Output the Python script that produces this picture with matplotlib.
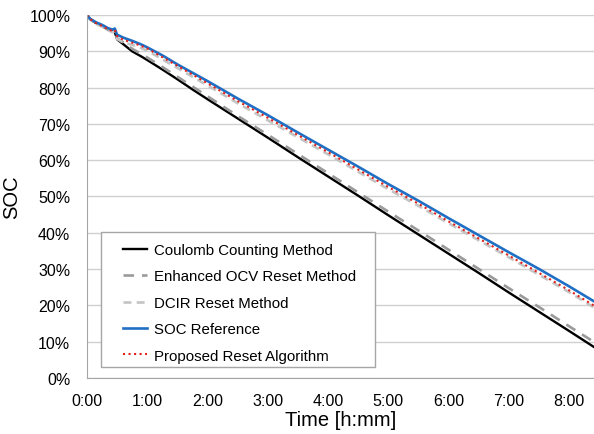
import matplotlib.pyplot as plt
from matplotlib.patches import Rectangle
from matplotlib.ticker import FuncFormatter

plt.rcParams['font.family'] = ['Liberation Sans', 'DejaVu Sans']

# time in hours
t = [0, 0.05, 0.15, 0.25, 0.35, 0.42, 0.46, 0.5, 0.6, 0.75, 0.9, 1.0, 1.25, 1.5, 1.75,
     2.0, 2.5, 3.0, 3.5, 4.0, 4.5, 5.0, 5.5, 6.0, 6.5, 7.0, 7.5, 8.0, 8.42]

coulomb = [100, 98.9, 97.8, 97.0, 96.0, 95.5, 95.3, 93.3, 92.0, 90.0, 88.6, 87.6, 85.0, 82.3, 79.5,
           76.8, 71.5, 66.2, 60.8, 55.5, 50.2, 44.8, 39.5, 34.2, 28.9, 23.5, 18.2, 12.9, 8.4]
ocv_reset = [100, 98.9, 97.8, 97.0, 96.0, 95.5, 95.4, 93.6, 92.5, 90.7, 89.3, 88.3, 85.7, 83.0, 80.3,
             77.6, 72.2, 67.0, 61.7, 56.4, 51.1, 45.8, 40.6, 35.3, 30.0, 24.7, 19.5, 14.2, 9.8]
dcir_reset = [100, 98.8, 97.6, 96.8, 95.8, 95.3, 95.5, 93.4, 92.5, 91.8, 90.9, 90.2, 87.8, 85.4, 83.0,
              80.6, 75.7, 71.0, 66.3, 61.6, 56.8, 52.0, 47.4, 42.6, 37.9, 33.2, 28.4, 23.6, 19.3]
soc_ref = [100, 99.0, 98.0, 97.3, 96.4, 96.0, 96.3, 94.6, 93.8, 92.9, 91.9, 91.1, 88.9, 86.4, 84.1,
           81.8, 77.0, 72.4, 67.6, 62.9, 58.2, 53.4, 48.8, 44.0, 39.3, 34.6, 30.0, 25.2, 21.0]
proposed = [100, 98.9, 97.8, 97.0, 96.1, 95.6, 95.9, 94.2, 93.2, 92.4, 91.5, 90.8, 88.4, 86.0, 83.6,
            81.2, 76.3, 71.7, 66.9, 62.2, 57.4, 52.6, 48.0, 43.1, 38.4, 33.7, 28.9, 24.1, 19.8]

fig = plt.figure(figsize=(5.94, 4.35), dpi=100)
ax = fig.add_axes([0.1465, 0.129, 0.8535, 0.834])

ax.plot(t, coulomb, color='black', lw=1.7, label='Coulomb Counting Method')
ax.plot(t, ocv_reset, color='#9a9a9a', lw=1.9, dashes=(4, 3), label='Enhanced OCV Reset Method')
ax.plot(t, dcir_reset, color='#c4c4c4', lw=1.9, dashes=(3, 2), label='DCIR Reset Method')
ax.plot(t, soc_ref, color='#1f6fc4', lw=1.9, label='SOC Reference')
ax.plot(t, proposed, color='#e0201b', lw=1.5, ls=':', label='Proposed Reset Algorithm')

ax.set_xlim(0, 8.41)
ax.set_ylim(0, 100)
ax.set_xticks(range(0, 9))
ax.xaxis.set_major_formatter(FuncFormatter(lambda v, p: '%d:00' % v))
ax.set_yticks(range(0, 101, 10))
ax.yaxis.set_major_formatter(FuncFormatter(lambda v, p: '%d%%' % v))
ax.tick_params(length=0, labelsize=11.5)
ax.tick_params(axis='x', pad=11)
ax.tick_params(axis='y', pad=12)
ax.grid(axis='y', color='#d0d0d0', lw=1)
ax.set_axisbelow(True)
for s in ['top', 'right']:
    ax.spines[s].set_visible(False)
for s in ['left', 'bottom']:
    ax.spines[s].set_color('#a6a6a6')

ax.set_xlabel('Time [h:mm]', fontsize=14.5, labelpad=1)
ax.set_ylabel('SOC', fontsize=14.5, labelpad=6)

# legend box drawn separately so the inner padding can be wider than tall
ax.add_patch(Rectangle((0.0276, 0.0303), 0.540, 0.372, transform=ax.transAxes,
                       facecolor='white', edgecolor='#a6a6a6', lw=1, zorder=4))
leg = ax.legend(loc='upper left', bbox_to_anchor=(0.071, 0.372), fontsize=10.8, handlelength=1.6,
                handletextpad=0.45, frameon=False, borderpad=0, labelspacing=0.83,
                borderaxespad=0)
leg.set_zorder(5)

fig.savefig('out.png', dpi=100)
